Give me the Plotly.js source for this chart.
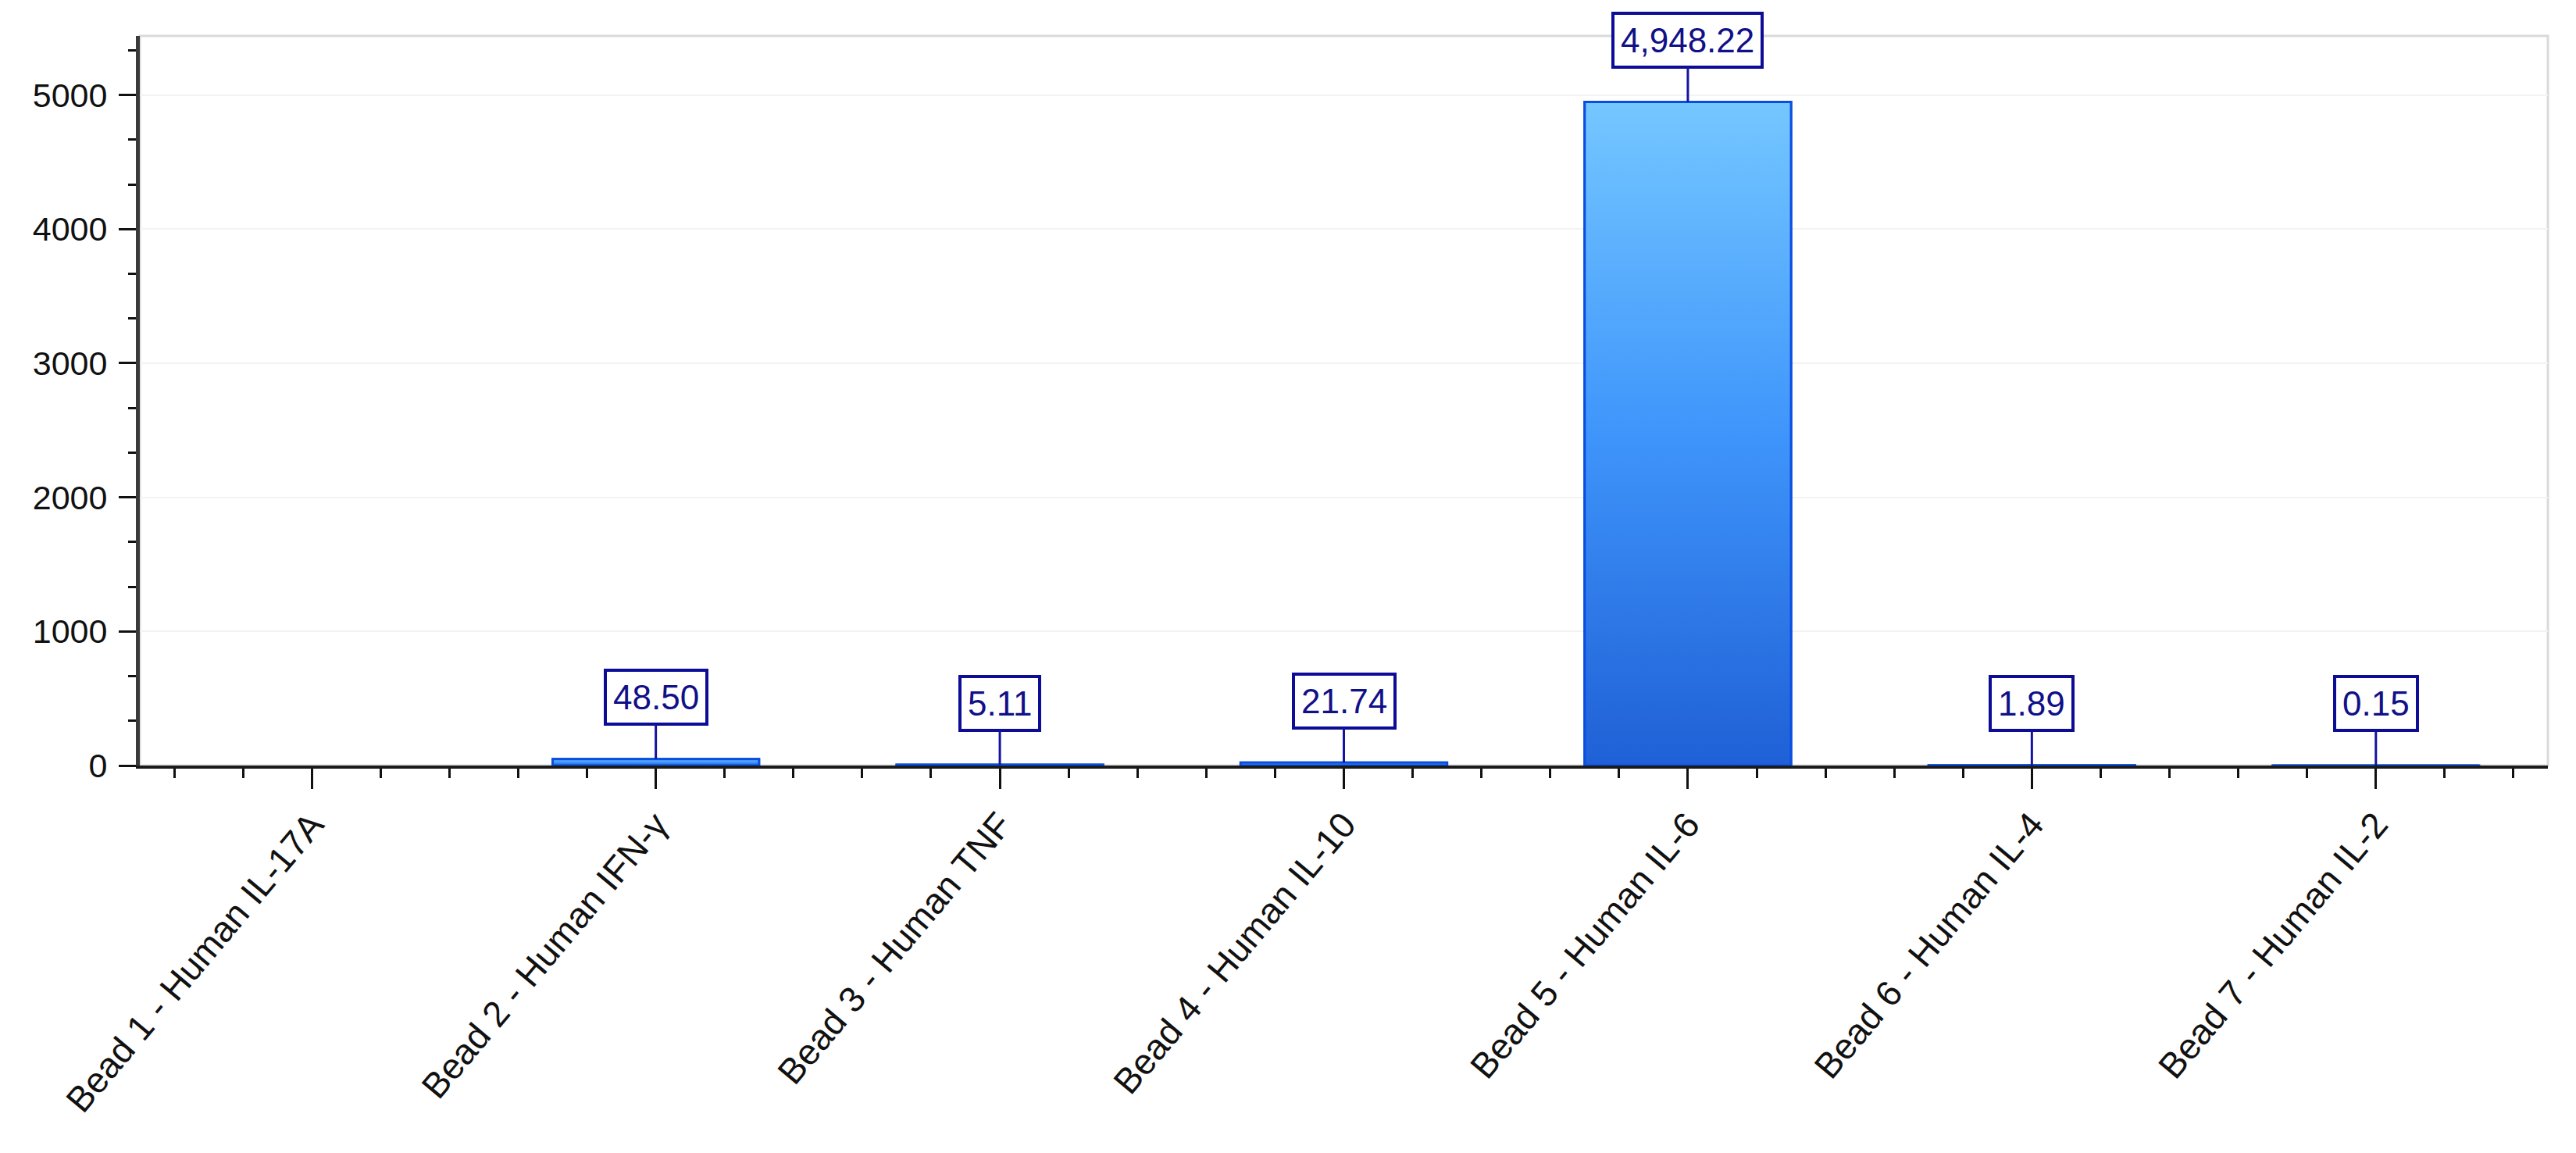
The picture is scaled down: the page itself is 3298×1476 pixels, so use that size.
<!DOCTYPE html>
<html>
<head>
<meta charset="utf-8">
<script src="https://cdn.plot.ly/plotly-3.0.1.min.js"></script>
<style>
  html, body { margin: 0; padding: 0; background: #fff; }
  #chart { width: 3298px; height: 1476px; }
</style>
</head>
<body>
<div id="chart"></div>
<script>
// bead labels and measured concentrations
const beads = [
    "Bead 1 - Human IL-17A",
    "Bead 2 - Human IFN-γ",
    "Bead 3 - Human TNF",
    "Bead 4 - Human IL-10",
    "Bead 5 - Human IL-6",
    "Bead 6 - Human IL-4",
    "Bead 7 - Human IL-2"
];
const values = [null, 48.50, 5.11, 21.74, 4948.22, 1.89, 0.15];
const valueLabels = ["", "48.50", "5.11", "21.74", "4,948.22", "1.89", "0.15"];
const yTicks = [0, 1000, 2000, 3000, 4000, 5000];

const BAR_W = 0.6;
const positions = beads.map((b, i) => i);

const traces = [];

// plain bars (underneath)
traces.push({
    type: 'bar',
    x: positions,
    y: values,
    width: BAR_W,
    marker: { color: '#2a7ae8', line: { color: '#0a4ee0', width: 3 } },
    showlegend: false,
    hoverinfo: 'skip'
});

// gradient fill on top of each bar
positions.forEach((p, i) => {
    const v = values[i];
    if (v == null) return;
    const x0 = p - BAR_W / 2, x1 = p + BAR_W / 2;
    traces.push({
        type: 'scatter',
        mode: 'lines',
        x: [x0, x0, x1, x1, x0],
        y: [0, v, v, 0, 0],
        fill: 'toself',
        fillgradient: {
            type: 'vertical',
            colorscale: [[0, '#1f60d6'], [0.5, '#3f95fb'], [1, '#74c7ff']]
        },
        line: { color: '#0a4ee0', width: 3 },
        showlegend: false,
        hoverinfo: 'skip'
    });
});

// boxed value labels joined to the bar tops
const annotations = [];
positions.forEach((p, i) => {
    if (values[i] == null) return;
    annotations.push({
        x: p,
        y: values[i],
        xref: 'x',
        yref: 'y',
        text: valueLabels[i],
        showarrow: true,
        arrowhead: 0,
        arrowwidth: 3,
        arrowcolor: '#1414a0',
        ax: 0,
        ay: -79,
        bgcolor: '#ffffff',
        bordercolor: '#0c0c96',
        borderwidth: 4,
        borderpad: 8,
        font: { family: 'Liberation Sans, Arial, sans-serif', size: 44, color: '#101088' }
    });
});

const layout = {
    width: 3298,
    height: 1476,
    margin: { l: 179, r: 36, t: 46, b: 496 },
    paper_bgcolor: '#ffffff',
    plot_bgcolor: '#ffffff',
    showlegend: false,
    hovermode: false,
    font: { family: 'Liberation Sans, Arial, sans-serif', color: '#111111' },
    xaxis: {
        range: [-0.5, 6.5],
        tickmode: 'array',
        tickvals: positions,
        ticktext: beads,
        tickangle: -50,
        ticks: 'outside',
        ticklen: 26,
        tickwidth: 3,
        tickcolor: '#111111',
        minor: { dtick: 0.2, tick0: 0, ticks: 'outside', ticklen: 12, tickwidth: 3, tickcolor: '#111111' },
        tickfont: { size: 46, color: '#111111' },
        showgrid: false,
        zeroline: false,
        showline: true,
        linecolor: '#1a1a1a',
        linewidth: 4,
        fixedrange: true
    },
    yaxis: {
        range: [0, 5440],
        tickmode: 'array',
        tickvals: yTicks,
        ticks: 'outside',
        ticklen: 22,
        tickwidth: 3,
        tickcolor: '#111111',
        minor: { dtick: 1000 / 3, tick0: 0, ticks: 'outside', ticklen: 10, tickwidth: 3, tickcolor: '#111111', showgrid: false },
        tickfont: { size: 43, color: '#111111' },
        ticklabelstandoff: 6,
        showgrid: true,
        gridcolor: '#f3f3f3',
        gridwidth: 2,
        zeroline: false,
        showline: true,
        linecolor: '#3a3a3a',
        linewidth: 5,
        fixedrange: true
    },
    shapes: [
        {
            type: 'rect', xref: 'paper', yref: 'paper', x0: 0, x1: 1, y0: 0, y1: 1,
            line: { color: '#dadada', width: 3 }, layer: 'below'
        }
    ],
    annotations: annotations
};

Plotly.newPlot('chart', traces, layout, { displayModeBar: false, staticPlot: true });
</script>
</body>
</html>
